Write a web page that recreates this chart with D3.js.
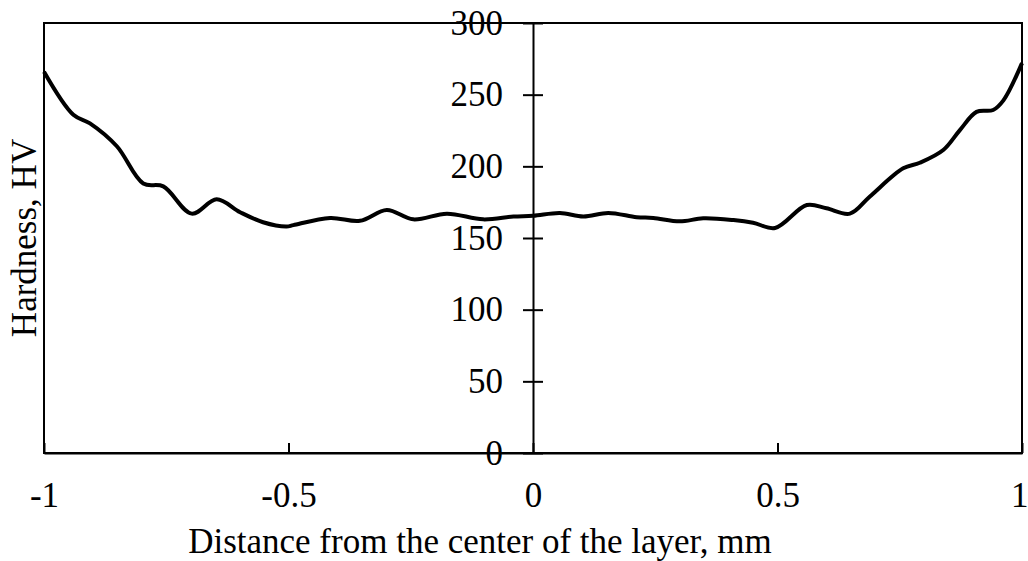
<!DOCTYPE html>
<html><head><meta charset="utf-8">
<script src="https://cdn.jsdelivr.net/npm/d3@7"></script>
<style>body{margin:0;background:#fff}svg text{font-family:"Liberation Serif","Times New Roman",serif;fill:#000}</style>
</head><body>
<svg id="c" width="1028" height="561"></svg>
<script>
const distance = [-1,-0.94,-0.906,-0.851,-0.797,-0.756,-0.698,-0.647,-0.599,-0.552,-0.504,-0.49,-0.415,-0.354,-0.299,-0.245,-0.176,-0.102,-0.04,0,0.055,0.103,0.154,0.212,0.246,0.30,0.348,0.41,0.45,0.495,0.56,0.60,0.648,0.689,0.757,0.791,0.839,0.873,0.907,0.941,0.962,1.0];
const hardness = [266,236,230,214,188,186,167,177,168,161,158,159,164,162,169.5,163,167,163,165,165.5,167.5,165,167.5,164.5,164,161.6,163.7,162.5,160.7,157,173,170.7,167,179,198.6,202.5,211.4,225.3,238,239.3,246,272];
const xTicks = [-1,-0.5,0,0.5,1];
const yTicks = [0,50,100,150,200,250,300];
const xTickLabels = ["-1","-0.5","0","0.5","1"];
const xTitle = "Distance from the center of the layer, mm";
const yTitle = "Hardness, HV";

const FS = 35;
const svg = d3.select("#c");
const L=44,R=1022,T=23,B=453;
const x = d3.scaleLinear().domain([-1,1]).range([L,R]);
const y = d3.scaleLinear().domain([0,300]).range([B,T]);

// frame
svg.append("rect").attr("x",L).attr("y",T).attr("width",R-L).attr("height",B-T)
  .attr("fill","none").attr("stroke","#000").attr("stroke-width",2);

// x axis ticks (inside)
const gx = svg.append("g").attr("transform",`translate(0,${B})`)
  .call(d3.axisBottom(x).tickValues(xTicks).tickSizeInner(-10).tickSizeOuter(0).tickPadding(29)
    .tickFormat((d,i)=>xTickLabels[i]));
gx.attr("font-size",FS).attr("font-family",null);
gx.select(".domain").attr("stroke-width",2);
gx.selectAll(".tick line").attr("stroke-width",2);
gx.selectAll(".tick text").filter(d=>d===1).attr("text-anchor","end").attr("dx",6);

// y axis at x=0, cross ticks
const gy = svg.append("g").attr("transform",`translate(${x(0)},0)`)
  .call(d3.axisLeft(y).tickValues(yTicks).tickSize(0).tickPadding(30));
gy.attr("font-size",FS).attr("font-family",null);
gy.select(".domain").attr("stroke-width",2);
gy.selectAll(".tick").append("line").attr("x1",-10).attr("x2",10).attr("stroke","#000").attr("stroke-width",2);

// line
const data = distance.map((d,i)=>[d,hardness[i]]);
svg.append("path").datum(data)
  .attr("fill","none").attr("stroke","#000").attr("stroke-width",4).attr("stroke-linejoin","round")
  .attr("d", d3.line().x(d=>x(d[0])).y(d=>y(d[1])).curve(d3.curveCatmullRom.alpha(0.5)));

// titles
svg.append("text").attr("x",480).attr("y",553).attr("text-anchor","middle").attr("font-size",FS).text(xTitle);
svg.append("text").attr("transform","translate(36,238) rotate(-90)").attr("text-anchor","middle").attr("font-size",FS).text(yTitle);
</script>
</body></html>
